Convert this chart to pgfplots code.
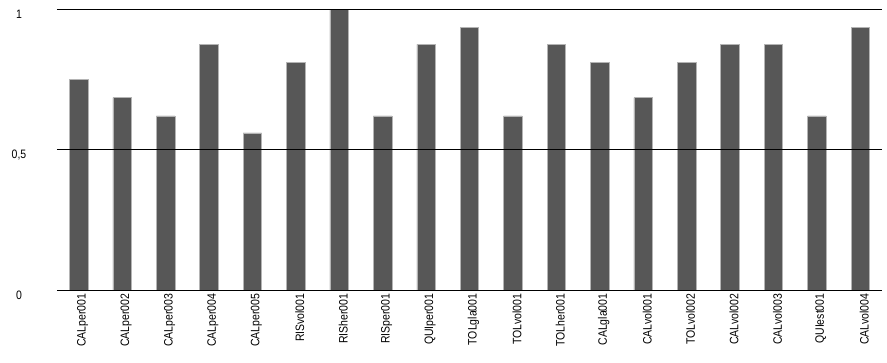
\documentclass[border=0pt]{standalone}
\usepackage{pgfplots}
\pgfplotsset{compat=1.18}
\usepackage{fontspec}
\setmainfont{Liberation Sans}
\newfontfamily\narrowfont[FakeStretch=0.86]{Liberation Sans}
\definecolor{barc}{HTML}{575757}
\definecolor{bare}{HTML}{B4B4B4}
\begin{document}
\begin{tikzpicture}
\begin{axis}[
  at={(0,0)}, anchor=south west,
  scale only axis, width=825pt, height=280.7pt,
  xmin=-0.5, xmax=18.5, ymin=0, ymax=1,
  axis line style={draw=none},
  xtick=data,
  xticklabels={CALper001,CALper002,CALper003,CALper004,CALper005,RISvol001,RISher001,RISper001,QUIper001,TOLgla001,TOLvol001,TOLher001,CALgla001,CALvol001,TOLvol002,CALvol002,CALvol003,QUIest001,CALvol004},
  x tick label style={rotate=90, anchor=east, font=\narrowfont\fontsize{12.2pt}{14pt}\selectfont, yshift=-4pt},
  ytick={0,0.5,1}, yticklabels={0,{0,5},1},
  y tick label style={anchor=center, xshift=-38pt, yshift=-5pt, font=\narrowfont\fontsize{12.2pt}{14pt}\selectfont},
  major tick length=0pt,
  tick style={draw=none},
  clip=false,
]
\addplot[ybar, bar width=18.5pt, fill=barc, draw=bare, line width=0.6pt] coordinates {
(0,0.75) (1,0.685) (2,0.62) (3,0.875) (4,0.56) (5,0.81) (6,1.0) (7,0.62) (8,0.875) (9,0.935)
(10,0.62) (11,0.875) (12,0.81) (13,0.685) (14,0.81) (15,0.875) (16,0.875) (17,0.62) (18,0.935)};
\draw[black, line width=0.9pt] (axis cs:-0.5,0) -- (axis cs:18.5,0);
\draw[black, line width=0.9pt] (axis cs:-0.5,0.5) -- (axis cs:18.5,0.5);
\draw[black, line width=0.9pt] (axis cs:-0.5,1) -- (axis cs:18.5,1);
\end{axis}
\pgfresetboundingbox
\path[use as bounding box] (-57pt,-73pt) rectangle (830pt,290pt);
\end{tikzpicture}
\end{document}
